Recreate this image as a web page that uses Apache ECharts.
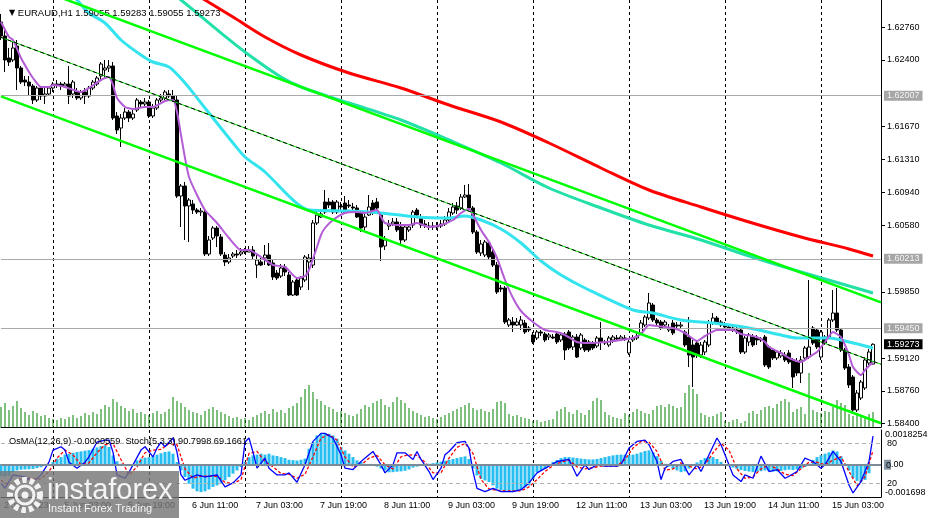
<!DOCTYPE html>
<html><head><meta charset="utf-8">
<script src="https://cdn.jsdelivr.net/npm/echarts@6/dist/echarts.min.js"></script>
<style>html,body{margin:0;padding:0;background:#fff}#c{width:929px;height:518px}</style>
</head><body><div id="c"></div>
<script>
const FONT = 'Liberation Sans, DejaVu Sans, sans-serif';
const symbolTitle = 'EURAUD,H1';
const lastOHLC = '1.59055 1.59283 1.59055 1.59273';
const subTitle = 'OsMA(12,26,9) -0.0000559  Stoch(5,3,3) 90.7998 69.1661';
const nCategories = 221;
const timeLabels = [[0,'2 Jun 2023'],[15,'5 Jun 03:00'],[31,'5 Jun 19:00'],[47,'6 Jun 11:00'],[63,'7 Jun 03:00'],[79,'7 Jun 19:00'],[95,'8 Jun 11:00'],[111,'9 Jun 03:00'],[127,'9 Jun 19:00'],[143,'12 Jun 11:00'],[159,'13 Jun 03:00'],[175,'13 Jun 19:00'],[191,'14 Jun 11:00'],[207,'15 Jun 03:00']];
const priceTicks = [1.62760,1.62400,1.61670,1.61310,1.60940,1.60580,1.59850,1.59120,1.58760,1.58400];
const levelLines = [1.62007,1.60213,1.59450];
const lastPrice = 1.59273;
const osmaRange = [-0.001698, 0.0018254];
const stochLevels = [80, 20];

// [open, close, low, high]
const ohlc = [
[1.62818,1.62664,1.62620,1.62906],[1.62664,1.62400,1.62268,1.62730],[1.62422,1.62378,1.62334,1.62532],[1.62400,1.62532,1.62378,1.62598],
[1.62554,1.62312,1.62070,1.62620],[1.62312,1.62158,1.62136,1.62334],[1.62180,1.62158,1.62114,1.62224],[1.62158,1.62114,1.62004,1.62224],
[1.62114,1.61960,1.61916,1.62136],[1.61960,1.62092,1.61938,1.62114],[1.62092,1.62004,1.61960,1.62114],[1.62004,1.62026,1.61916,1.62092],
[1.62026,1.62092,1.62004,1.62114],[1.62092,1.62136,1.62048,1.62158],[1.62136,1.62125,1.62092,1.62180],[1.62136,1.62114,1.62070,1.62158],
[1.62114,1.62136,1.62092,1.62158],[1.62136,1.62004,1.61916,1.62334],[1.62026,1.62158,1.61982,1.62180],[1.62048,1.61982,1.61960,1.62092],
[1.61982,1.62048,1.61960,1.62070],[1.62048,1.62004,1.61916,1.62092],[1.62004,1.62092,1.61982,1.62114],[1.62092,1.62158,1.62070,1.62180],
[1.62136,1.62202,1.62114,1.62224],[1.62224,1.62356,1.62180,1.62378],[1.62290,1.62312,1.62202,1.62400],[1.62312,1.62334,1.62268,1.62400],
[1.62334,1.61762,1.61740,1.62378],[1.61784,1.61630,1.61586,1.61828],[1.61652,1.61762,1.61443,1.61806],[1.61762,1.61828,1.61740,1.61872],
[1.61828,1.61762,1.61718,1.61850],[1.61762,1.61806,1.61740,1.61850],[1.61850,1.61960,1.61828,1.61982],[1.61938,1.61916,1.61872,1.61960],
[1.61916,1.61938,1.61894,1.61982],[1.61938,1.61784,1.61762,1.61960],[1.61784,1.61872,1.61762,1.61916],[1.61872,1.61960,1.61850,1.61982],
[1.61960,1.61982,1.61938,1.62026],[1.61982,1.62048,1.61960,1.62070],[1.62026,1.62004,1.61982,1.62070],[1.62004,1.61960,1.61938,1.62070],
[1.61960,1.60904,1.60882,1.62004],[1.60904,1.61014,1.60563,1.61036],[1.61014,1.60794,1.60420,1.61058],[1.60794,1.60860,1.60398,1.60882],
[1.60816,1.60750,1.60706,1.60860],[1.60750,1.60728,1.60706,1.60772],[1.60728,1.60739,1.60684,1.60772],[1.60728,1.60266,1.60244,1.60750],
[1.60266,1.60420,1.60244,1.60464],[1.60442,1.60552,1.60420,1.60574],[1.60552,1.60464,1.60343,1.60574],[1.60453,1.60266,1.60244,1.60486],
[1.60255,1.60178,1.60134,1.60288],[1.60178,1.60222,1.60156,1.60266],[1.60244,1.60266,1.60222,1.60288],[1.60266,1.60255,1.60222,1.60310],
[1.60266,1.60288,1.60244,1.60332],[1.60288,1.60299,1.60266,1.60332],[1.60288,1.60310,1.60288,1.60354],[1.60310,1.60244,1.60200,1.60354],
[1.60145,1.60200,1.60002,1.60277],[1.60178,1.60145,1.60134,1.60222],[1.60222,1.60255,1.60145,1.60365],[1.60255,1.60145,1.60134,1.60387],
[1.60167,1.60013,1.59980,1.60200],[1.60057,1.60002,1.59980,1.60090],[1.60024,1.60112,1.60002,1.60156],[1.60123,1.60068,1.60024,1.60156],
[1.60035,1.59815,1.59804,1.60068],[1.59815,1.59958,1.59804,1.59980],[1.59980,1.59815,1.59804,1.60002],[1.59903,1.60002,1.59870,1.60024],
[1.59980,1.60233,1.59958,1.60255],[1.60178,1.60222,1.59870,1.60266],[1.60145,1.60607,1.60112,1.60640],[1.60607,1.60695,1.60585,1.60750],
[1.60673,1.60706,1.60662,1.60750],[1.60838,1.60728,1.60706,1.60970],[1.60838,1.60805,1.60772,1.60882],[1.60838,1.60728,1.60706,1.60860],
[1.60728,1.60838,1.60706,1.60860],[1.60794,1.60783,1.60750,1.60838],[1.60827,1.60717,1.60706,1.60904],[1.60805,1.60794,1.60772,1.60860],
[1.60783,1.60772,1.60750,1.60827],[1.60772,1.60673,1.60662,1.60805],[1.60717,1.60552,1.60508,1.60750],[1.60563,1.60673,1.60530,1.60706],
[1.60695,1.60783,1.60684,1.60915],[1.60827,1.60717,1.60695,1.60860],[1.60838,1.60772,1.60728,1.60882],[1.60695,1.60343,1.60189,1.60728],
[1.60354,1.60420,1.60310,1.60464],[1.60574,1.60596,1.60530,1.60640],[1.60596,1.60618,1.60574,1.60662],[1.60618,1.60530,1.60508,1.60662],
[1.60563,1.60420,1.60376,1.60618],[1.60420,1.60563,1.60398,1.60596],[1.60530,1.60563,1.60508,1.60596],[1.60585,1.60728,1.60552,1.60750],
[1.60750,1.60695,1.60662,1.60772],[1.60673,1.60585,1.60552,1.60706],[1.60596,1.60585,1.60552,1.60640],[1.60574,1.60563,1.60530,1.60618],
[1.60563,1.60574,1.60530,1.60618],[1.60574,1.60563,1.60530,1.60618],[1.60574,1.60596,1.60552,1.60640],[1.60596,1.60640,1.60574,1.60684],
[1.60640,1.60728,1.60618,1.60772],[1.60717,1.60783,1.60695,1.60827],[1.60794,1.60750,1.60706,1.60838],[1.60772,1.60893,1.60750,1.60926],
[1.60893,1.60915,1.60882,1.61025],[1.60915,1.60772,1.60750,1.61036],[1.60772,1.60508,1.60486,1.60794],[1.60508,1.60288,1.60266,1.60530],
[1.60277,1.60376,1.60244,1.60420],[1.60255,1.60398,1.60233,1.60420],[1.60387,1.60233,1.60211,1.60420],[1.60288,1.60145,1.60123,1.60310],
[1.60145,1.59848,1.59826,1.60178],[1.59892,1.59881,1.59848,1.59925],[1.59892,1.59518,1.59496,1.59914],[1.59485,1.59540,1.59463,1.59562],
[1.59518,1.59485,1.59408,1.59573],[1.59485,1.59518,1.59474,1.59562],[1.59485,1.59540,1.59430,1.59584],[1.59507,1.59408,1.59386,1.59540],
[1.59452,1.59430,1.59408,1.59474],[1.59375,1.59298,1.59276,1.59408],[1.59342,1.59408,1.59320,1.59430],[1.59408,1.59397,1.59364,1.59430],
[1.59386,1.59320,1.59298,1.59408],[1.59353,1.59375,1.59320,1.59397],[1.59353,1.59342,1.59331,1.59386],[1.59386,1.59298,1.59276,1.59408],
[1.59320,1.59375,1.59298,1.59397],[1.59386,1.59210,1.59100,1.59408],[1.59408,1.59232,1.59210,1.59430],[1.59243,1.59353,1.59210,1.59375],
[1.59353,1.59133,1.59122,1.59386],[1.59232,1.59375,1.59210,1.59397],[1.59320,1.59210,1.59188,1.59342],[1.59298,1.59210,1.59188,1.59320],
[1.59287,1.59232,1.59210,1.59309],[1.59254,1.59342,1.59232,1.59364],[1.59342,1.59298,1.59210,1.59518],[1.59298,1.59287,1.59265,1.59320],
[1.59265,1.59342,1.59243,1.59364],[1.59320,1.59353,1.59287,1.59375],[1.59342,1.59331,1.59309,1.59375],[1.59331,1.59353,1.59309,1.59375],
[1.59342,1.59331,1.59309,1.59375],[1.59177,1.59298,1.59155,1.59320],[1.59320,1.59342,1.59298,1.59375],[1.59342,1.59364,1.59320,1.59397],
[1.59397,1.59507,1.59375,1.59540],[1.59485,1.59573,1.59463,1.59595],[1.59562,1.59727,1.59540,1.59837],[1.59705,1.59540,1.59518,1.59727],
[1.59540,1.59507,1.59485,1.59562],[1.59518,1.59452,1.59430,1.59540],[1.59485,1.59518,1.59474,1.59540],[1.59430,1.59452,1.59408,1.59496],
[1.59507,1.59397,1.59375,1.59540],[1.59485,1.59474,1.59452,1.59518],[1.59474,1.59485,1.59452,1.59518],[1.59408,1.59265,1.59243,1.59430],
[1.59353,1.59155,1.59023,1.59573],[1.59265,1.59133,1.58803,1.59320],[1.59287,1.59155,1.59122,1.59320],[1.59155,1.59265,1.59122,1.59298],
[1.59188,1.59298,1.59155,1.59320],[1.59265,1.59507,1.59243,1.59540],[1.59507,1.59562,1.59485,1.59617],[1.59562,1.59507,1.59485,1.59584],
[1.59518,1.59485,1.59463,1.59540],[1.59485,1.59463,1.59441,1.59518],[1.59463,1.59452,1.59430,1.59496],[1.59452,1.59430,1.59408,1.59485],
[1.59430,1.59408,1.59386,1.59463],[1.59430,1.59188,1.59166,1.59452],[1.59188,1.59342,1.59166,1.59364],[1.59298,1.59375,1.59254,1.59397],
[1.59353,1.59265,1.59243,1.59386],[1.59342,1.59320,1.59265,1.59375],[1.59320,1.59331,1.59298,1.59353],[1.59353,1.59045,1.59023,1.59375],
[1.59243,1.59023,1.59001,1.59265],[1.59210,1.59122,1.59100,1.59232],[1.59122,1.59188,1.59100,1.59210],[1.59144,1.59177,1.59122,1.59210],
[1.59155,1.59100,1.59078,1.59188],[1.59177,1.59078,1.59056,1.59210],[1.59100,1.58913,1.58792,1.59122],[1.59078,1.58957,1.58924,1.59122],
[1.58957,1.59100,1.58847,1.59144],[1.59122,1.59232,1.59100,1.59254],[1.59133,1.59243,1.59111,1.59980],[1.59452,1.59287,1.59265,1.59474],
[1.59430,1.59243,1.59221,1.59452],[1.59133,1.59408,1.59100,1.59430],[1.59353,1.59287,1.59265,1.59375],[1.59353,1.59540,1.59331,1.59562],
[1.59540,1.59617,1.59518,1.59870],[1.59617,1.59430,1.59408,1.59892],[1.59430,1.59210,1.59188,1.59452],[1.59210,1.59012,1.58990,1.59232],
[1.59023,1.58825,1.58792,1.59056],[1.58913,1.58550,1.58528,1.58935],[1.58550,1.58737,1.58528,1.58770],[1.58682,1.58858,1.58660,1.58880],
[1.58792,1.59100,1.58770,1.59133],[1.59067,1.59188,1.59045,1.59221],[1.59055,1.59273,1.59055,1.59283]
];

const volume = [
200,240,170,210,260,190,150,120,160,140,110,120,90,
80,70,90,80,100,120,90,110,140,120,150,130,
180,220,200,280,250,210,190,160,180,140,150,130,
120,140,160,130,150,180,300,260,240,200,170,150,
140,120,160,180,200,170,150,130,110,90,100,80,
90,70,100,120,140,160,130,180,150,170,140,190,
210,240,300,380,420,350,280,260,220,200,180,150,
160,140,120,110,130,180,220,200,240,260,280,220,
200,250,300,270,240,190,160,140,120,100,110,90,
80,100,120,140,160,180,200,220,240,190,170,180,
160,150,180,250,260,240,130,110,120,100,90,80,
60,70,50,60,70,80,160,180,200,150,130,170,
140,120,170,260,290,270,150,120,100,90,80,140,
120,150,180,160,140,130,170,210,220,200,230,210,
190,200,340,420,380,330,140,120,100,110,130,150,
60,50,70,80,40,60,140,160,130,170,200,210,
190,230,260,280,250,150,180,200,130,540,170,150,
140,160,150,200,270,240,220,130,110,140,120,100,130,150
];

const maRed = [[42,1.63302],[51,1.63060],[58,1.62873],[66,1.62653],[75,1.62455],[87,1.62257],[100,1.62092],[112,1.61905],[125,1.61718],[137,1.61487],[150,1.61212],[162,1.60970],[175,1.60783],[187,1.60618],[200,1.60453],[212,1.60321],[218,1.60244]];
const maTeal = [[35,1.63390],[45,1.63060],[55,1.62697],[62,1.62455],[70,1.62213],[75,1.62103],[87,1.61927],[100,1.61740],[112,1.61520],[125,1.61267],[137,1.60992],[150,1.60772],[162,1.60585],[175,1.60420],[187,1.60244],[200,1.60068],[212,1.59914],[218,1.59837]];
const maCyan = [[14,1.63280],[19,1.63060],[22,1.62917],[26,1.62807],[30,1.62620],[35,1.62455],[38,1.62378],[42,1.62323],[46,1.62147],[51,1.61872],[58,1.61487],[61,1.61333],[66,1.61168],[73,1.60860],[77,1.60750],[87,1.60739],[95,1.60717],[104,1.60673],[112,1.60662],[116,1.60684],[120,1.60640],[125,1.60541],[130,1.60387],[135,1.60189],[140,1.60035],[146,1.59892],[158,1.59650],[163,1.59617],[170,1.59540],[178,1.59507],[187,1.59452],[195,1.59375],[199,1.59342],[207,1.59342],[212,1.59298],[218,1.59232]];
const maPurple = [[0,1.62818],[2,1.62653],[3,1.62620],[5,1.62422],[7,1.62268],[8,1.62202],[10,1.62103],[12,1.62103],[13,1.62125],[16,1.62103],[20,1.62048],[22,1.62092],[25,1.62180],[27,1.62213],[28,1.62125],[29,1.61982],[31,1.61883],[33,1.61861],[36,1.61883],[38,1.61883],[41,1.61949],[43,1.61960],[44,1.61828],[45,1.61575],[46,1.61322],[47,1.61113],[49,1.60915],[51,1.60750],[54,1.60607],[57,1.60442],[60,1.60310],[62,1.60310],[65,1.60233],[68,1.60145],[71,1.60123],[74,1.60002],[76,1.60024],[77,1.60090],[79,1.60343],[80,1.60475],[81,1.60552],[83,1.60640],[86,1.60717],[89,1.60728],[91,1.60717],[94,1.60750],[95,1.60673],[96,1.60607],[99,1.60585],[102,1.60585],[104,1.60607],[107,1.60563],[110,1.60585],[113,1.60640],[115,1.60717],[117,1.60761],[118,1.60695],[120,1.60530],[122,1.60398],[124,1.60222],[126,1.59980],[128,1.59782],[130,1.59639],[133,1.59518],[136,1.59430],[139,1.59408],[141,1.59375],[144,1.59298],[147,1.59287],[151,1.59298],[155,1.59320],[158,1.59342],[160,1.59386],[162,1.59485],[164,1.59474],[168,1.59452],[171,1.59397],[174,1.59309],[176,1.59364],[179,1.59430],[183,1.59430],[185,1.59386],[189,1.59353],[191,1.59298],[192,1.59243],[195,1.59177],[197,1.59122],[200,1.59078],[202,1.59133],[204,1.59188],[206,1.59298],[208,1.59408],[209,1.59386],[210,1.59353],[211,1.59265],[212,1.59155],[213,1.59023],[215,1.58935],[216,1.58990],[218,1.59078]];
const chanUpper = [[0,1.63330],[220,1.59734]];
const chanMid = [[0,1.62649],[220,1.59053]];
const chanLower = [[0,1.62000],[220,1.58404]];

const osma = [
-0.00060,-0.00062,-0.00058,-0.00039,-0.00030,-0.00026,-0.00025,-0.00024,-0.00022,-0.00018,-0.00013,-0.00006,0.00003,0.00014,0.00032,0.00040,
0.00053,0.00058,0.00063,0.00067,0.00070,0.00074,0.00077,0.00084,0.00091,0.00098,0.00102,0.00093,0.00049,0.00018,0.00005,0.00002,
-0.00002,0.00004,0.00023,0.00032,0.00037,0.00040,0.00046,0.00053,0.00060,0.00067,0.00070,0.00058,0.00014,-0.00030,-0.00065,-0.00100,
-0.00126,-0.00140,-0.00144,-0.00140,-0.00130,-0.00117,-0.00109,-0.00095,-0.00082,-0.00065,-0.00047,-0.00030,-0.00012,0.00014,0.00040,0.00049,
0.00053,0.00058,0.00053,0.00058,0.00049,0.00046,0.00040,0.00035,0.00026,0.00024,0.00022,0.00026,0.00032,0.00084,0.00119,0.00154,
0.00163,0.00163,0.00163,0.00154,0.00137,0.00093,0.00075,0.00058,0.00040,0.00023,0.00014,0.00005,0.00002,-0.00005,-0.00010,-0.00020,
-0.00030,-0.00040,-0.00039,-0.00037,-0.00035,-0.00032,-0.00025,-0.00015,-0.00010,-0.00005,0.00003,0.00005,0.00008,0.00012,0.00016,0.00021,
0.00026,0.00030,0.00035,0.00040,0.00044,0.00030,-0.00020,-0.00056,-0.00074,-0.00083,-0.00091,-0.00109,-0.00126,-0.00135,-0.00144,-0.00144,
-0.00144,-0.00140,-0.00135,-0.00120,-0.00109,-0.00074,-0.00039,-0.00030,-0.00021,-0.00004,0.00015,0.00025,0.00035,0.00040,0.00040,0.00038,
0.00035,0.00032,0.00030,0.00028,0.00028,0.00030,0.00035,0.00040,0.00045,0.00049,0.00052,0.00053,0.00053,0.00050,0.00053,0.00058,
0.00065,0.00072,0.00075,0.00065,0.00045,0.00020,0.00005,-0.00010,-0.00021,-0.00030,-0.00039,-0.00035,-0.00020,-0.00005,0.00012,0.00025,
0.00035,0.00040,0.00040,0.00030,0.00015,0.00003,-0.00008,-0.00015,-0.00022,-0.00028,-0.00033,-0.00036,-0.00039,-0.00037,-0.00034,-0.00030,
-0.00033,-0.00036,-0.00035,-0.00032,-0.00029,-0.00026,-0.00028,-0.00025,-0.00020,-0.00012,0.00005,0.00025,0.00040,0.00050,0.00058,0.00065,
0.00075,0.00070,0.00045,0.00005,-0.00030,-0.00070,-0.00085,-0.00092,-0.00080,-0.00045,-0.0000559
];

const stochMain = [[0,21],[1,13],[3,33],[6,30],[8,22],[10,33],[12,52],[13,70],[15,75],[16,70],[17,52],[19,43],[21,52],[22,60],[24,82],[26,85],[27,85],[28,67],[29,33],[31,28],[32,37],[33,48],[35,70],[36,75],[38,60],[39,73],[40,82],[41,75],[43,88],[44,67],[45,33],[46,25],[49,33],[51,30],[54,33],[56,15],[58,21],[60,33],[61,82],[62,88],[63,67],[64,43],[66,58],[67,43],[69,33],[71,33],[72,36],[74,22],[76,48],[78,83],[80,95],[81,95],[83,88],[85,63],[86,43],[88,41],[90,53],[92,63],[93,68],[95,48],[96,36],[98,48],[99,66],[101,66],[103,56],[104,68],[105,56],[107,38],[108,26],[110,43],[111,63],[112,68],[114,81],[116,83],[117,73],[118,38],[119,13],[121,8],[123,13],[125,8],[128,8],[130,11],[132,21],[134,36],[137,46],[139,53],[142,56],[144,31],[146,48],[147,41],[149,48],[151,46],[154,46],[155,48],[157,73],[159,83],[161,85],[162,78],[164,53],[165,26],[166,43],[168,53],[170,56],[172,33],[174,48],[175,38],[177,63],[179,88],[180,78],[181,63],[183,33],[185,23],[186,33],[188,28],[190,61],[192,38],[194,41],[196,28],[197,31],[199,38],[201,58],[203,53],[205,43],[206,48],[208,68],[210,53],[212,18],[213,6],[215,23],[217,53],[218,90.7998]];
const stochSignal = [[0,25],[2,18],[4,24],[6,29],[8,27],[10,27],[12,38],[14,58],[16,70],[18,63],[20,48],[22,51],[24,66],[26,78],[28,80],[30,56],[32,33],[34,45],[36,66],[38,70],[40,71],[42,80],[44,78],[46,42],[48,28],[50,31],[52,31],[54,31],[56,22],[58,20],[60,26],[62,65],[64,68],[66,53],[68,45],[70,35],[72,34],[74,28],[76,34],[78,60],[80,88],[82,93],[84,85],[86,60],[88,45],[90,48],[92,58],[94,62],[96,48],[98,42],[100,60],[102,63],[104,62],[106,52],[108,36],[110,36],[112,58],[114,74],[116,80],[118,65],[120,26],[122,12],[124,10],[126,9],[128,9],[130,9],[132,15],[134,26],[136,38],[138,47],[140,52],[142,55],[144,45],[146,42],[148,44],[150,46],[152,46],[154,46],[156,56],[158,73],[160,83],[162,82],[164,68],[166,40],[168,42],[170,51],[172,46],[174,42],[176,48],[178,66],[180,80],[182,70],[184,42],[186,28],[188,30],[190,42],[192,48],[194,42],[196,34],[198,32],[200,42],[202,52],[204,52],[206,48],[208,55],[210,60],[212,38],[214,17],[216,30],[218,69.1661]];

const cats = Array.from({length: nCategories}, (_, i) => String(i));
const labelMap = Object.fromEntries(timeLabels);
const isGrid = i => i >= 13 && (i - 13) % 24 === 0;
const gridDash = {show: true, interval: (i) => isGrid(i), lineStyle: {color: '#000', type: [3, 3], width: 1}};

const chart = echarts.init(document.getElementById('c'), null, {renderer: 'canvas'});
const lineS = (data, color, width, z, extra) => Object.assign({
  type: 'line', data, xAxisIndex: 0, yAxisIndex: 0, showSymbol: false, symbol: 'none',
  lineStyle: {color, width}, z, silent: true, smooth: 0.3
}, extra || {});

chart.setOption({
  animation: false,
  backgroundColor: '#ffffff',
  textStyle: {fontFamily: FONT},
  title: [
    {left: 4, top: 3, text: '{a|▼} ' + symbolTitle + ' ' + lastOHLC,
     textStyle: {fontFamily: FONT, fontSize: 9.5, fontWeight: 'normal', color: '#000', rich: {a: {fontSize: 8, fontFamily: 'DejaVu Sans', color: '#000'}}}},
    {left: 4, top: 432, text: subTitle, textStyle: {fontFamily: FONT, fontSize: 9.2, fontWeight: 'normal', color: '#000'}}
  ],
  grid: [
    {left: 1, right: 48, top: 0, height: 427, outerBoundsMode: 'none'},
    {left: 1, right: 48, top: 430, height: 67, outerBoundsMode: 'none'}
  ],
  xAxis: [
    {type: 'category', gridIndex: 0, data: cats, boundaryGap: false,
     axisLine: {show: true, lineStyle: {color: '#000', width: 1}}, axisTick: {show: false}, axisLabel: {show: false}, splitLine: gridDash},
    {type: 'category', gridIndex: 1, data: cats, boundaryGap: false, position: 'bottom',
     axisLine: {show: true, lineStyle: {color: '#000', width: 1}}, axisTick: {show: false},
     axisLabel: {show: true, interval: (i) => labelMap[i] !== undefined, formatter: (v, i) => labelMap[i] || '',
       align: 'left', margin: 4, padding: [0, 0, 0, 3], fontSize: 9, color: '#000', fontFamily: FONT, hideOverlap: false},
     splitLine: gridDash},
    {type: 'category', gridIndex: 1, data: cats, boundaryGap: false, position: 'top',
     axisLine: {show: true, lineStyle: {color: '#000', width: 1}}, axisTick: {show: false}, axisLabel: {show: false}, splitLine: {show: false}}
  ],
  yAxis: [
    {type: 'value', gridIndex: 0, position: 'right', min: 1.58363, max: 1.6306, scale: true,
     axisLine: {show: true, lineStyle: {color: '#000', width: 1}},
     axisTick: {show: true, length: 4, inside: false, customValues: priceTicks, lineStyle: {color: '#000'}},
     axisLabel: {show: true, customValues: priceTicks, formatter: v => v.toFixed(5), margin: 6, fontSize: 9, color: '#000', fontFamily: FONT},
     splitLine: {show: false}},
    {type: 'value', gridIndex: 0, min: 0, max: 4270, show: false, splitLine: {show: false}},
    {type: 'value', gridIndex: 1, position: 'right', min: osmaRange[0], max: osmaRange[1],
     axisLine: {show: true, lineStyle: {color: '#000', width: 1}}, axisTick: {show: false},
     axisLabel: {show: true, customValues: osmaRange, formatter: v => String(v), margin: 4, fontSize: 9, color: '#000', fontFamily: FONT,
       verticalAlignMinLabel: 'bottom', verticalAlignMaxLabel: 'top'},
     splitLine: {show: false}},
    {type: 'value', gridIndex: 1, position: 'right', min: 0, max: 100,
     axisLine: {show: false}, axisTick: {show: false},
     axisLabel: {show: true, customValues: stochLevels, formatter: v => String(v), margin: 6, fontSize: 9, color: '#000', fontFamily: FONT},
     splitLine: {show: false}}
  ],
  series: [
    {type: 'bar', name: 'vol', data: volume, xAxisIndex: 0, yAxisIndex: 1, barWidth: 1, itemStyle: {color: '#008000'}, z: 1, silent: true},
    {type: 'candlestick', name: 'price', data: ohlc, xAxisIndex: 0, yAxisIndex: 0, barWidth: 3, z: 3, silent: true,
     itemStyle: {color: '#ffffff', color0: '#000000', borderColor: '#000000', borderColor0: '#000000', borderWidth: 1},
     markLine: {silent: true, symbol: ['none', 'none'], animation: false, precision: 6,
       lineStyle: {color: '#a9a9a9', width: 1, type: 'solid'},
       label: {show: true, position: 'end', distance: 3, formatter: p => Number(p.value).toFixed(5), backgroundColor: '#a6a6a6', color: '#f4f4f4', padding: [1, 3, 0, 3], fontSize: 9, fontFamily: FONT},
       data: levelLines.map(v => ({yAxis: v}))}},
    {type: 'line', name: 'bid', data: [], xAxisIndex: 0, yAxisIndex: 0, silent: true, z: 8,
     markLine: {silent: true, symbol: ['none', 'none'], animation: false, precision: 6,
       lineStyle: {color: 'rgba(0,0,0,0)', width: 1, type: 'solid'},
       label: {show: true, position: 'end', distance: 3, formatter: p => Number(p.value).toFixed(5), backgroundColor: '#000000', color: '#ffffff', padding: [1, 3, 0, 3], fontSize: 9, fontFamily: FONT},
       data: [{yAxis: lastPrice}]}},
    lineS(maRed, '#ff0000', 3, 4),
    lineS(maTeal, '#22e0a8', 3, 4),
    lineS(maCyan, '#33e4ef', 3, 4),
    lineS(maPurple, '#b35cd6', 2, 5, {smooth: 0.2}),
    lineS(chanUpper, '#00ff00', 2.5, 6, {smooth: false}),
    lineS(chanLower, '#00ff00', 2.5, 6, {smooth: false}),
    lineS(chanMid, '#00e000', 1, 6, {smooth: false}),
    lineS(chanMid, '#000000', 1, 7, {smooth: false, lineStyle: {color: '#000', width: 1, type: [4, 3]}}),
    {type: 'bar', name: 'osma', data: osma, xAxisIndex: 1, yAxisIndex: 2, barWidth: 3, itemStyle: {color: '#27bdf0'}, z: 2, silent: true,
     markLine: {silent: true, symbol: ['none', 'none'], animation: false, precision: 6,
       lineStyle: {color: '#7d8b99', width: 2, type: 'solid'},
       label: {show: true, position: 'end', distance: 3, formatter: '{g|0}{t|.00}', fontSize: 9, fontFamily: FONT, color: '#000',
         rich: {g: {backgroundColor: '#8796a5', color: '#000', fontSize: 9, padding: [1, 0, 0, 2]}, t: {color: '#000', fontSize: 9}}},
       data: [{yAxis: 0}]}},
    {type: 'line', name: 'stoch', data: stochMain, xAxisIndex: 1, yAxisIndex: 3, showSymbol: false, symbol: 'none',
     lineStyle: {color: '#0000ff', width: 1.3}, z: 4, silent: true,
     markLine: {silent: true, symbol: ['none', 'none'], animation: false, label: {show: false}, precision: 4,
       lineStyle: {color: '#b4b4b4', width: 1, type: [4, 3]}, data: stochLevels.map(v => ({yAxis: v}))}},
    {type: 'line', name: 'signal', data: stochSignal, xAxisIndex: 1, yAxisIndex: 3, showSymbol: false, symbol: 'none',
     lineStyle: {color: '#ff0000', width: 1.3, type: [3, 2]}, z: 3, silent: true}
  ],
  graphic: [
    {type: 'rect', z: 100, shape: {x: 0, y: 471, width: 179, height: 47}, style: {fill: 'rgba(118,118,118,0.82)'}},
    {type: 'circle', z: 101, shape: {cx: 25, cy: 495, r: 15}, style: {fill: 'none', stroke: '#f2f2f2', lineWidth: 6, lineDash: [4.5, 3]}},
    {type: 'circle', z: 101, shape: {cx: 25, cy: 495, r: 9}, style: {fill: 'none', stroke: '#f2f2f2', lineWidth: 3}},
    {type: 'circle', z: 101, shape: {cx: 25, cy: 495, r: 3.5}, style: {fill: '#f2f2f2'}},
    {type: 'text', z: 101, x: 47, y: 476, style: {text: 'instaforex', fill: '#f4f4f4', font: '29px ' + FONT, verticalAlign: 'top'}},
    {type: 'text', z: 101, x: 48, y: 503, style: {text: 'Instant Forex Trading', fill: '#f4f4f4', font: '11px ' + FONT, verticalAlign: 'top'}}
  ]
});
</script></body></html>
